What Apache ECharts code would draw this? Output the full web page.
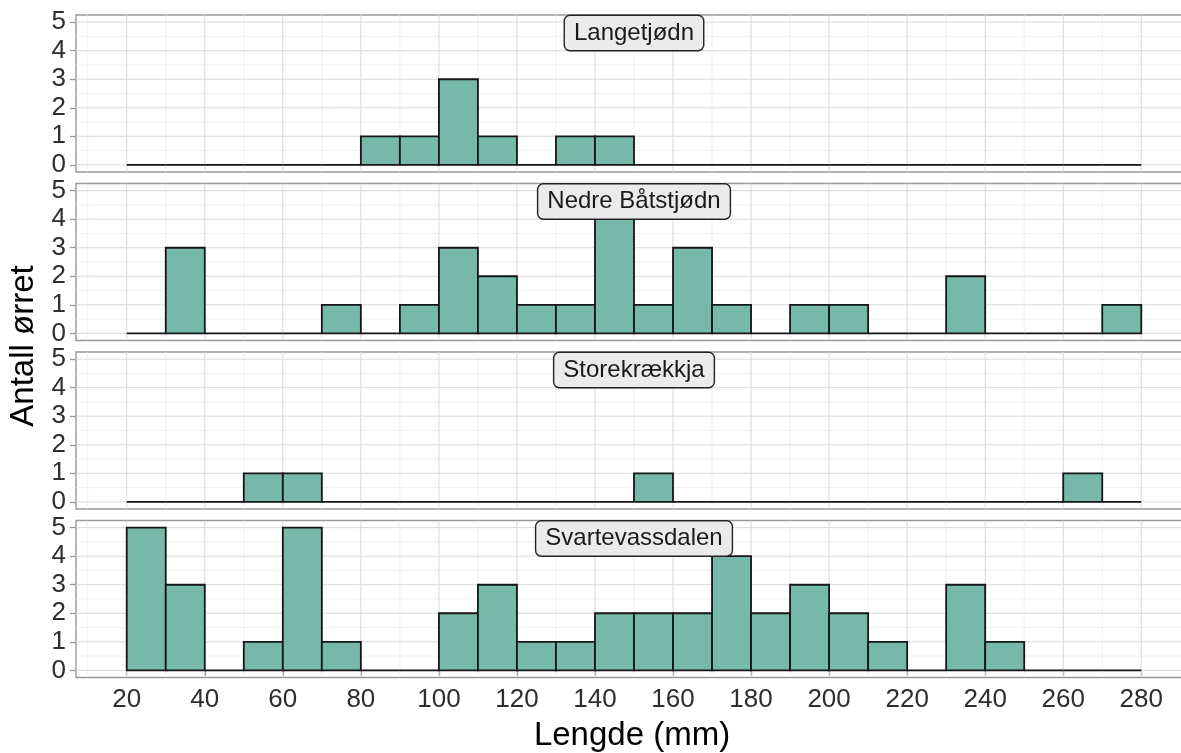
<!DOCTYPE html>
<html>
<head>
<meta charset="utf-8">
<title>Lengdefordeling aure</title>
<script src="https://cdn.jsdelivr.net/npm/echarts@6/dist/echarts.min.js"></script>
<style>
  html, body { margin: 0; padding: 0; background: #fff; }
  #chart { width: 1181px; height: 753px; }
</style>
</head>
<body>
<div id="chart"></div>
<script>
// Histogram bins (lower edge, mm) and bin width
const binStarts = [20, 30, 40, 50, 60, 70, 80, 90, 100, 110, 120, 130, 140, 150, 160, 170, 180, 190, 200, 210, 220, 230, 240, 250, 260, 270];
const binWidth = 10;

// Lakes (one panel each)
const lakes = ['Langetjødn', 'Nedre Båtstjødn', 'Storekrækkja', 'Svartevassdalen'];

// Number of trout per 10 mm length bin
const countsLangetjodn      = [0, 0, 0, 0, 0, 0, 1, 1, 3, 1, 0, 1, 1, 0, 0, 0, 0, 0, 0, 0, 0, 0, 0, 0, 0, 0];
const countsNedreBatstjodn  = [0, 3, 0, 0, 0, 1, 0, 1, 3, 2, 1, 1, 4, 1, 3, 1, 0, 1, 1, 0, 0, 2, 0, 0, 0, 1];
const countsStorekraekkja   = [0, 0, 0, 1, 1, 0, 0, 0, 0, 0, 0, 0, 0, 1, 0, 0, 0, 0, 0, 0, 0, 0, 0, 0, 1, 0];
const countsSvartevassdalen = [5, 3, 0, 1, 5, 1, 0, 0, 2, 3, 1, 1, 2, 2, 2, 4, 2, 3, 2, 1, 0, 3, 1, 0, 0, 0];
const countsByLake = [countsLangetjodn, countsNedreBatstjodn, countsStorekraekkja, countsSvartevassdalen];

// Tick labels and grid lines
const xTicks = [20, 40, 60, 80, 100, 120, 140, 160, 180, 200, 220, 240, 260, 280];
const xMinor = [10, 30, 50, 70, 90, 110, 130, 150, 170, 190, 210, 230, 250, 270];
const yTicks = [0, 1, 2, 3, 4, 5];
const yMinor = [0.5, 1.5, 2.5, 3.5, 4.5];

// Axis ranges (5% expansion around the data range)
const xMin = 7, xMax = 293;
const yMin = -0.25, yMax = 5.25;

const FONT = '"Liberation Sans", Arial, Helvetica, sans-serif';
const BAR_FILL = '#77b9a9';

// Panel layout
const panelLeft = 76, panelWidth = 1116, panelTop0 = 15, panelHeight = 157, panelStep = 168.5;

const chart = echarts.init(document.getElementById('chart'), null, { renderer: 'canvas' });

const grids = [], xAxes = [], yAxes = [], series = [];

// Grid line list for one panel: [orientation, value, isMajor]
const gridLines = [];
xMinor.forEach(v => gridLines.push(['x', v, false]));
yMinor.forEach(v => gridLines.push(['y', v, false]));
xTicks.forEach(v => gridLines.push(['x', v, true]));
yTicks.forEach(v => gridLines.push(['y', v, true]));

lakes.forEach((lake, i) => {
  const isBottom = i === lakes.length - 1;
  grids.push({
    left: panelLeft,
    top: panelTop0 + i * panelStep,
    width: panelWidth,
    height: panelHeight,
    show: true,
    backgroundColor: 'transparent',
    borderColor: '#999999',
    borderWidth: 1.4,
    containLabel: false,
    outerBoundsMode: 'none'
  });
  xAxes.push({
    type: 'value',
    gridIndex: i,
    min: xMin,
    max: xMax,
    axisLine: { show: false },
    splitLine: { show: false },
    axisTick: {
      show: isBottom,
      customValues: xTicks,
      length: 6,
      lineStyle: { color: '#999999', width: 1.3 }
    },
    axisLabel: {
      show: isBottom,
      customValues: xTicks,
      fontSize: 26,
      fontFamily: FONT,
      color: '#2e2e2e',
      margin: 9
    }
  });
  yAxes.push({
    type: 'value',
    gridIndex: i,
    min: yMin,
    max: yMax,
    axisLine: { show: false },
    splitLine: { show: false },
    axisTick: {
      show: true,
      customValues: yTicks,
      length: 6,
      lineStyle: { color: '#999999', width: 1.3 }
    },
    axisLabel: {
      customValues: yTicks,
      fontSize: 26,
      fontFamily: FONT,
      color: '#2e2e2e',
      margin: 10
    }
  });

  // Background grid lines
  series.push({
    type: 'custom',
    xAxisIndex: i,
    yAxisIndex: i,
    z: 1,
    silent: true,
    clip: true,
    data: gridLines.map((g, k) => [k]),
    renderItem: function (params, api) {
      const g = gridLines[params.dataIndex];
      const cs = params.coordSys;
      const color = g[2] ? '#d9d9d9' : '#eeeeee';
      const width = g[2] ? 1 : 0.8;
      if (g[0] === 'x') {
        const px = api.coord([g[1], 0])[0];
        return { type: 'line', shape: { x1: px, y1: cs.y, x2: px, y2: cs.y + cs.height },
                 style: { stroke: color, lineWidth: width } };
      }
      const py = api.coord([xMin, g[1]])[1];
      return { type: 'line', shape: { x1: cs.x, y1: py, x2: cs.x + cs.width, y2: py },
               style: { stroke: color, lineWidth: width } };
    }
  });

  // Histogram bars
  const counts = countsByLake[i];
  series.push({
    type: 'custom',
    name: lake,
    xAxisIndex: i,
    yAxisIndex: i,
    z: 2,
    encode: { x: [0, 1], y: 2 },
    data: binStarts.map((s, k) => [s, s + binWidth, counts[k]]),
    renderItem: function (params, api) {
      const p0 = api.coord([api.value(0), api.value(2)]);
      const p1 = api.coord([api.value(1), 0]);
      if (api.value(2) === 0) {
        return { type: 'line', shape: { x1: p0[0], y1: p1[1], x2: p1[0], y2: p1[1] },
                 style: { stroke: '#161616', lineWidth: 1.8 } };
      }
      return {
        type: 'rect',
        shape: { x: p0[0], y: p0[1], width: p1[0] - p0[0], height: p1[1] - p0[1] },
        style: { fill: BAR_FILL, stroke: '#161616', lineWidth: 1.8 }
      };
    }
  });

  // Panel label box
  series.push({
    type: 'custom',
    xAxisIndex: i,
    yAxisIndex: i,
    z: 5,
    silent: true,
    data: [[0]],
    renderItem: function (params) {
      const cs = params.coordSys;
      return {
        type: 'text',
        x: cs.x + cs.width / 2,
        y: cs.y + 1,
        style: {
          text: lake,
          fontSize: 24,
          fontFamily: FONT,
          fill: '#1a1a1a',
          align: 'center',
          verticalAlign: 'top',
          backgroundColor: '#ebebeb',
          borderColor: '#222222',
          borderWidth: 1.4,
          borderRadius: 5,
          padding: [3, 9, 3, 9],
          lineHeight: 28
        }
      };
    }
  });
});

chart.setOption({
  animation: false,
  backgroundColor: '#ffffff',
  grid: grids,
  xAxis: xAxes,
  yAxis: yAxes,
  series: series,
  graphic: [
    {
      type: 'text',
      x: 632,
      y: 736,
      style: {
        text: 'Lengde (mm)',
        fontSize: 33,
        fontFamily: FONT,
        fill: '#000000',
        align: 'center',
        verticalAlign: 'middle'
      }
    },
    {
      type: 'text',
      x: 24,
      y: 346,
      rotation: Math.PI / 2,
      style: {
        text: 'Antall ørret',
        fontSize: 33,
        fontFamily: FONT,
        fill: '#000000',
        align: 'center',
        verticalAlign: 'middle'
      }
    }
  ]
});
</script>
</body>
</html>
